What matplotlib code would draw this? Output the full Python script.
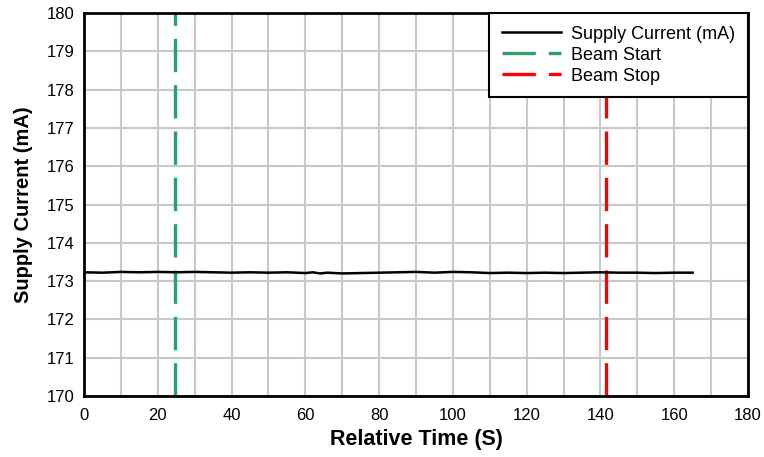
import matplotlib.pyplot as plt
from matplotlib.ticker import MultipleLocator

plt.rcParams['font.family'] = ['Liberation Sans', 'DejaVu Sans']

# readings from the trace (time in s, current in mA)
time_s = [0, 5, 10, 15, 20, 25, 30, 35, 40, 45, 50, 55, 60, 62, 64, 66, 70, 75,
          80, 85, 90, 95, 100, 105, 110, 115, 120, 125, 130, 135, 140, 145, 150,
          155, 160, 165]
current_ma = [173.23, 173.22, 173.24, 173.23, 173.24, 173.23, 173.24, 173.23,
              173.22, 173.23, 173.22, 173.23, 173.21, 173.23, 173.20, 173.22,
              173.20, 173.21, 173.22, 173.23, 173.24, 173.22, 173.24, 173.23,
              173.21, 173.22, 173.21, 173.22, 173.21, 173.22, 173.23, 173.22,
              173.22, 173.21, 173.22, 173.22]
beam_start = 24.7
beam_stop = 141.5

fig = plt.figure(figsize=(7.64, 4.57), dpi=100)
ax = fig.add_axes([0.110, 0.1335, 0.869, 0.838])

ax.plot(time_s, current_ma, color='black', lw=1.8, label='Supply Current (mA)', zorder=3)
ax.axvline(beam_start, color='#2e9e6b', lw=2.4, dashes=(10, 3.9), label='Beam Start', zorder=2)
ax.axvline(beam_stop, color='#ff0000', lw=2.4, dashes=(10, 3.9), label='Beam Stop', zorder=2)

ax.set_xlim(0, 180)
ax.set_ylim(170, 180)
ax.xaxis.set_major_locator(MultipleLocator(20))
ax.xaxis.set_minor_locator(MultipleLocator(10))
ax.yaxis.set_major_locator(MultipleLocator(1))
ax.grid(True, which='both', color='#c8c8c8', lw=1.5, zorder=0)
ax.set_axisbelow(True)
ax.tick_params(which='both', length=0, labelsize=12)
ax.tick_params(axis='x', pad=9)
ax.tick_params(axis='y', pad=7)

for sp in ax.spines.values():
    sp.set_linewidth(2)
    sp.set_color('black')

ax.set_xlabel('Relative Time (S)', fontsize=15.5, fontweight='bold', labelpad=4)
ax.set_ylabel('Supply Current (mA)', fontsize=14.5, fontweight='bold', labelpad=10)

leg = ax.legend(loc='upper right', fontsize=13, fancybox=False, framealpha=1,
                edgecolor='black', borderaxespad=0, handlelength=3.3,
                handletextpad=0.55, labelspacing=0.22, borderpad=0.7)
leg.get_frame().set_linewidth(1.5)

fig.savefig('out.png', dpi=100)
